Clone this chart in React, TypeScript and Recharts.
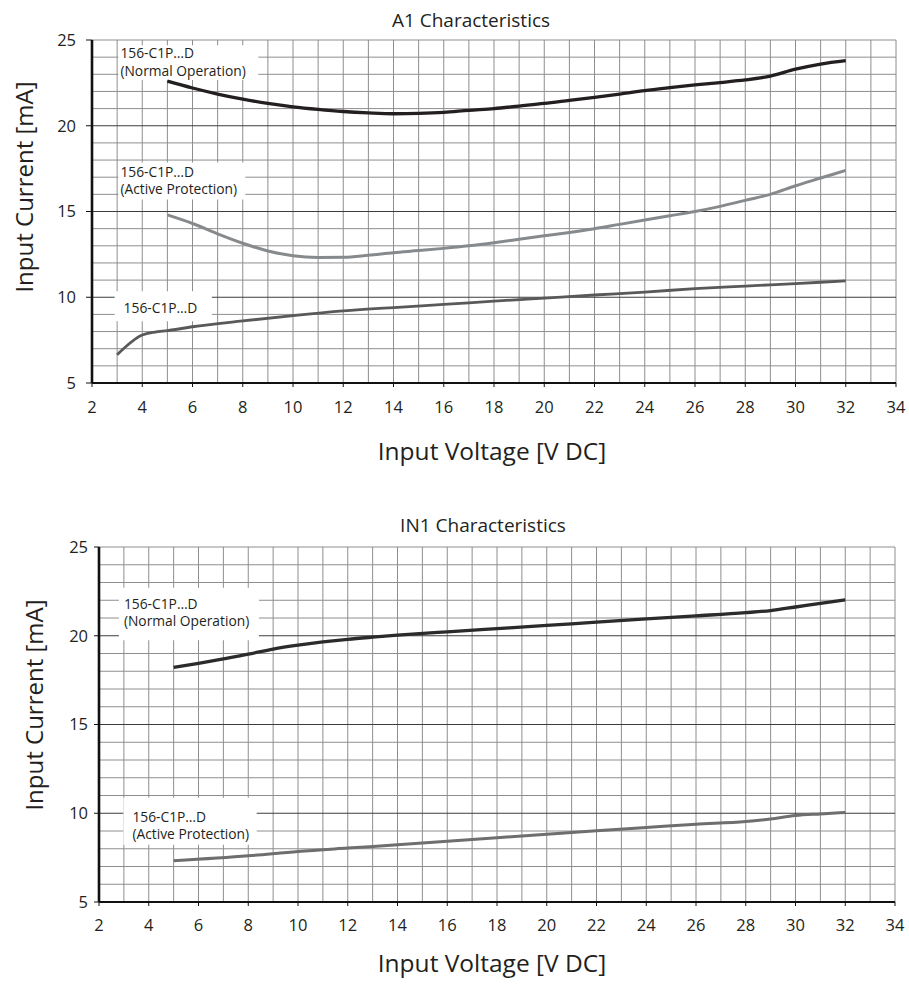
import React from 'react';
import { LineChart, Line, XAxis, YAxis, CartesianGrid, ReferenceArea, Label } from 'recharts';

// ---------- tick labels / grid values ----------
const xTicks = [2, 4, 6, 8, 10, 12, 14, 16, 18, 20, 22, 24, 26, 28, 30, 32, 34];
const yTicks = [5, 10, 15, 20, 25];
const minorX = [3, 4, 5, 6, 7, 8, 9, 10, 11, 12, 13, 14, 15, 16, 17, 18, 19, 20, 21, 22, 23, 24, 25, 26, 27, 28, 29, 30, 31, 32, 33, 34];
const minorY = [6, 7, 8, 9, 11, 12, 13, 14, 16, 17, 18, 19, 21, 22, 23, 24, 25];
const majorY = [10, 15, 20];

// ---------- A1 characteristics ----------
const a1NormalV = [5, 6, 7, 8, 9, 10, 11, 12, 13, 14, 15, 16, 17, 18, 19, 20, 21, 22, 23, 24, 25, 26, 27, 28, 29, 30, 31, 32];
const a1NormalI = [22.6, 22.2, 21.85, 21.55, 21.3, 21.1, 20.95, 20.83, 20.75, 20.7, 20.72, 20.78, 20.9, 21.0, 21.15, 21.3, 21.48, 21.66, 21.85, 22.05, 22.22, 22.38, 22.52, 22.67, 22.9, 23.3, 23.6, 23.8];

const a1ActiveV = [5, 6, 7, 8, 9, 10, 11, 12, 13, 14, 15, 16, 17, 18, 19, 20, 21, 22, 23, 24, 25, 26, 27, 28, 29, 30, 31, 32];
const a1ActiveI = [14.8, 14.3, 13.7, 13.15, 12.7, 12.42, 12.32, 12.33, 12.45, 12.6, 12.72, 12.85, 13.0, 13.18, 13.38, 13.58, 13.78, 14.0, 14.25, 14.5, 14.75, 15.0, 15.3, 15.65, 16.0, 16.5, 16.95, 17.4];

const a1BaseV = [3, 4, 4.5, 5, 6, 8, 10, 12, 14, 16, 18, 20, 22, 24, 26, 28, 30, 32];
const a1BaseI = [6.65, 7.8, 7.97, 8.05, 8.28, 8.62, 8.93, 9.2, 9.4, 9.58, 9.77, 9.95, 10.13, 10.3, 10.5, 10.65, 10.8, 10.95];

// ---------- IN1 characteristics ----------
const in1NormalV = [5, 6, 7, 8, 9, 10, 11, 12, 13, 14, 16, 18, 20, 22, 24, 26, 28, 29, 30, 31, 32];
const in1NormalI = [18.22, 18.45, 18.7, 18.96, 19.25, 19.47, 19.65, 19.8, 19.92, 20.03, 20.22, 20.4, 20.58, 20.77, 20.95, 21.12, 21.3, 21.42, 21.62, 21.82, 22.02];

const in1ActiveV = [5, 8, 10, 12, 14, 16, 18, 20, 22, 24, 26, 28, 29, 30, 31, 32];
const in1ActiveI = [7.32, 7.6, 7.85, 8.04, 8.22, 8.42, 8.62, 8.82, 9.02, 9.2, 9.38, 9.53, 9.68, 9.87, 9.96, 10.04];

// ---------- annotation texts ----------
const labelModel = '156-C1P…D';
const labelNormal = '(Normal Operation)';
const labelActive = '(Active Protection)';

const zip = (vs: number[], is: number[]) => vs.map((v, k) => ({ v, i: is[k] }));

const FONT = "'Open Sans', sans-serif";
const TXT = '#231f20';

type Box = { x1: number; x2: number; y1: number; y2: number; lines: string[]; dx: number; dy: number; gap: number };

const a1Boxes: Box[] = [
  { x1: 3.05, x2: 8.62, y1: 22.67, y2: 24.7, lines: [labelModel, labelNormal], dx: 2, dy: 13, gap: 17.5 },
  { x1: 3.05, x2: 8.1, y1: 15.7, y2: 17.85, lines: [labelModel, labelActive], dx: 2, dy: 14, gap: 17.5 },
  { x1: 2.9, x2: 6.77, y1: 8.6, y2: 10.35, lines: [labelModel], dx: 9, dy: 22, gap: 17.5 },
];
const in1Boxes: Box[] = [
  { x1: 2.8, x2: 8.43, y1: 19.75, y2: 22.7, lines: [labelModel, labelNormal], dx: 5, dy: 21, gap: 17.5 },
  { x1: 2.98, x2: 8.34, y1: 8.22, y2: 10.87, lines: [labelModel, labelActive], dx: 9, dy: 24, gap: 17.5 },
];

const boxContent = (box: Box) => (props: any) => {
  const vb = props.viewBox || {};
  const x = vb.x ?? 0;
  const y = vb.y ?? 0;
  return (
    <text x={x + box.dx} y={y + box.dy} fill={TXT} fontSize={13.8} fontFamily={FONT}>
      {box.lines.map((l, k) => (
        <tspan key={k} x={x + box.dx} y={y + box.dy + k * box.gap}>{l}</tspan>
      ))}
    </text>
  );
};

type Series = { data: { v: number; i: number }[]; color: string; width: number };

function Panel(props: {
  top: number;
  marginTop: number;
  marginRight: number;
  yAxisWidth: number;
  xAxisHeight: number;
  xTickSize: number;
  xTickMargin: number;
  yTickSize: number;
  yTickMargin: number;
  series: Series[];
  boxes: Box[];
}) {
  const p = props;
  return (
    <div style={{ position: 'absolute', left: 0, top: p.top }}>
      <LineChart width={909} height={440} margin={{ top: p.marginTop, right: p.marginRight, bottom: 0, left: 0 }}>
        <CartesianGrid
          horizontalValues={minorY}
          verticalValues={minorX}
          stroke="#8e8e8e"
          strokeWidth={1}
          fill="none"
        />
        <CartesianGrid horizontalValues={majorY} vertical={false} stroke="#3c3c3c" strokeWidth={1} fill="none" />
        <XAxis
          type="number"
          dataKey="v"
          domain={[2, 34]}
          ticks={xTicks}
          interval={0}
          allowDataOverflow
          height={p.xAxisHeight}
          tickSize={p.xTickSize}
          tickMargin={p.xTickMargin}
          axisLine={{ stroke: '#111', strokeWidth: 2.2 }}
          tickLine={{ stroke: '#111', strokeWidth: 1 }}
          tick={{ fill: TXT, fontSize: 16.5, fontFamily: FONT }}
        />
        <YAxis
          type="number"
          domain={[5, 25]}
          ticks={yTicks}
          interval={0}
          allowDataOverflow
          width={p.yAxisWidth}
          tickSize={p.yTickSize}
          tickMargin={p.yTickMargin}
          axisLine={{ stroke: '#111', strokeWidth: 2.6 }}
          tickLine={{ stroke: '#111', strokeWidth: 1 }}
          tick={{ fill: TXT, fontSize: 16.5, fontFamily: FONT }}
        />
        {p.boxes.map((b, k) => (
          <ReferenceArea
            key={'b' + k}
            x1={b.x1}
            x2={b.x2}
            y1={b.y1}
            y2={b.y2}
            fill="#ffffff"
            fillOpacity={1}
            stroke="none"
          >
            <Label content={boxContent(b)} />
          </ReferenceArea>
        ))}
        {p.series.map((s, k) => (
          <Line
            key={'s' + k}
            data={s.data}
            dataKey="i"
            type="monotone"
            stroke={s.color}
            strokeWidth={s.width}
            dot={false}
            activeDot={false}
            isAnimationActive={false}
          />
        ))}
      </LineChart>
    </div>
  );
}

export default function App() {
  return (
    <div style={{ position: 'absolute', left: 0, top: 0, width: 909, height: 986, background: '#fff', fontFamily: FONT }}>
      <Panel
        top={0}
        marginTop={40}
        marginRight={13}
        yAxisWidth={92}
        xAxisHeight={57}
        xTickSize={4}
        xTickMargin={14}
        yTickSize={6}
        yTickMargin={10}
        boxes={a1Boxes}
        series={[
          { data: zip(a1BaseV, a1BaseI), color: '#58595b', width: 2.8 },
          { data: zip(a1ActiveV, a1ActiveI), color: '#878a8c', width: 3 },
          { data: zip(a1NormalV, a1NormalI), color: '#231f20', width: 3.3 },
        ]}
      />
      <Panel
        top={500}
        marginTop={47}
        marginRight={14}
        yAxisWidth={99}
        xAxisHeight={38}
        xTickSize={4}
        xTickMargin={13}
        yTickSize={5}
        yTickMargin={6}
        boxes={in1Boxes}
        series={[
          { data: zip(in1ActiveV, in1ActiveI), color: '#6d6e70', width: 3 },
          { data: zip(in1NormalV, in1NormalI), color: '#2b2a2c', width: 3.3 },
        ]}
      />
      <svg width={909} height={986} style={{ position: 'absolute', left: 0, top: 0, pointerEvents: 'none' }}>
        <text x={471} y={20} textAnchor="middle" dominantBaseline="central" fontSize={19} fontFamily={FONT} fill={TXT}>
          A1 Characteristics
        </text>
        <text x={492} y={450} textAnchor="middle" dominantBaseline="central" fontSize={24.5} fontFamily={FONT} fill={TXT}>
          Input Voltage [V DC]
        </text>
        <text x={23} y={187} textAnchor="middle" dominantBaseline="central" fontSize={24} fontFamily={FONT} fill={TXT} transform="rotate(-90 23 187)">
          Input Current [mA]
        </text>
        <text x={483} y={525} textAnchor="middle" dominantBaseline="central" fontSize={19} fontFamily={FONT} fill={TXT}>
          IN1 Characteristics
        </text>
        <text x={492} y={962} textAnchor="middle" dominantBaseline="central" fontSize={24.5} fontFamily={FONT} fill={TXT}>
          Input Voltage [V DC]
        </text>
        <text x={33} y={705} textAnchor="middle" dominantBaseline="central" fontSize={24} fontFamily={FONT} fill={TXT} transform="rotate(-90 33 705)">
          Input Current [mA]
        </text>
      </svg>
    </div>
  );
}
